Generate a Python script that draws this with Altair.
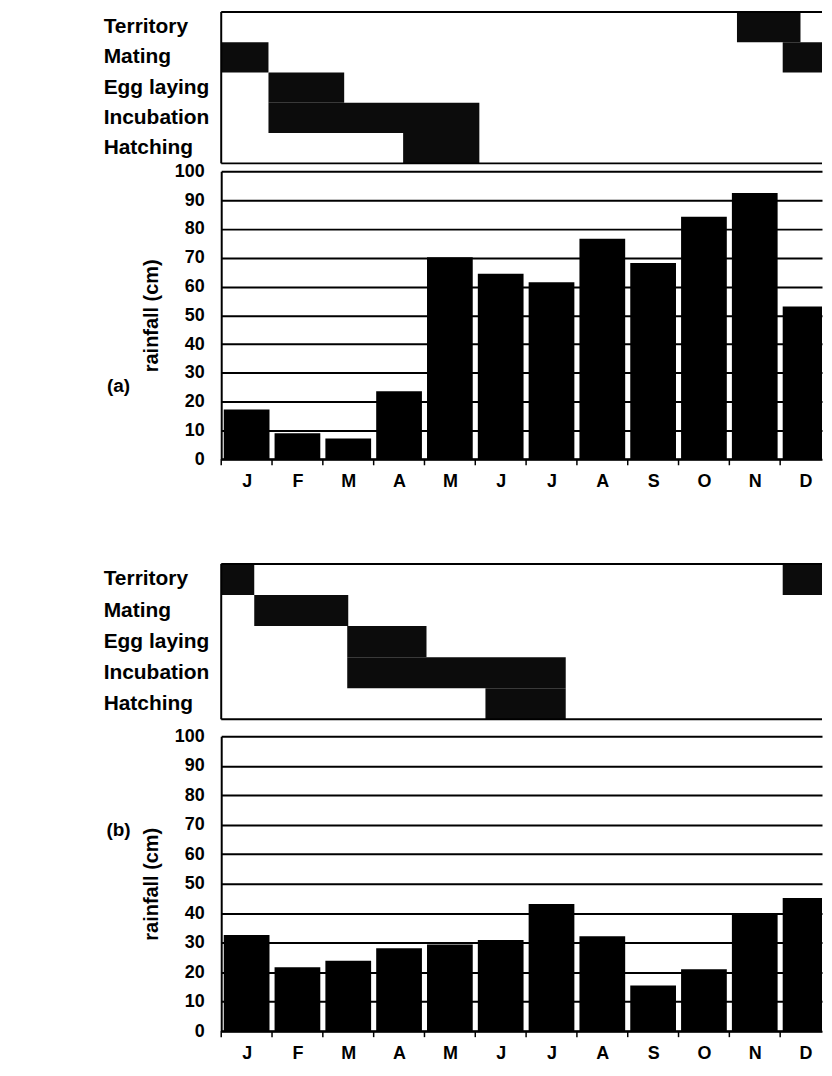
import altair as alt
import pandas as pd

months = ["J", "F", "M", "A", "M", "J", "J", "A", "S", "O", "N", "D"]
rain_a = [17.3, 9.0, 7.2, 23.6, 70.2, 64.4, 61.5, 76.6, 68.2, 84.2, 92.5, 53.1]
rain_b = [32.6, 21.7, 23.9, 28.1, 29.4, 30.9, 43.1, 32.2, 15.5, 21.0, 39.8, 45.2]

stages = ["Territory", "Mating", "Egg laying", "Incubation", "Hatching"]

phase_a_stage = ["Mating", "Egg laying", "Incubation", "Hatching", "Territory", "Mating"]
phase_a_start = [0.0, 0.93, 0.93, 3.58, 10.15, 11.05]
phase_a_end = [0.93, 2.42, 5.08, 5.08, 11.4, 12.0]

phase_b_stage = ["Territory", "Mating", "Egg laying", "Incubation", "Hatching", "Territory"]
phase_b_start = [0.0, 0.65, 2.48, 2.48, 5.2, 11.05]
phase_b_end = [0.65, 2.5, 4.04, 6.78, 6.78, 12.0]

FONT = "Liberation Sans"
W = 603                 # visible plot width (to the page edge)
STEP = 51.0             # pixels per month; the year runs past the page edge as in the original
VIS = W / STEP          # months visible
month_expr = "[" + ",".join("'%s'" % m for m in months) + "][floor(datum.value)]"


def mscale():
    return alt.Scale(domain=[0, VIS], nice=False, zero=False, clamp=True)


def edge(x, x2, y, y2):
    return alt.Chart(pd.DataFrame({"v": [0]})).mark_rule(color="black", strokeWidth=2).encode(
        x=alt.value(x), x2=alt.value(x2), y=alt.value(y), y2=alt.value(y2)
    )


def gantt(stage, start, end, h, with_bound=False):
    df = pd.DataFrame({"stage": stage, "start": start, "end": end})
    yscale = alt.Scale(domain=stages, paddingInner=0, paddingOuter=0)
    blocks = alt.Chart(df).mark_rect(color="#0c0c0c").encode(
        x=alt.X("start:Q", scale=mscale(), axis=None),
        x2="end:Q",
        y=alt.Y("stage:N", scale=yscale, axis=None),
    )
    labels = alt.Chart(pd.DataFrame({"stage": stages})).mark_text(
        align="left", baseline="middle", font=FONT, fontSize=21, fontWeight="bold", color="black"
    ).encode(
        x=alt.value(-118),
        y=alt.Y("stage:N", scale=yscale, axis=None),
        text="stage:N",
    )
    layers = [blocks, labels, edge(0, W, 0, 0), edge(0, W, h, h), edge(0, 0, 0, h)]
    if with_bound:
        layers.append(
            alt.Chart(pd.DataFrame({"v": [0]})).mark_rule(color="white").encode(
                x=alt.value(-213), x2=alt.value(-211), y=alt.value(5)
            )
        )
    return alt.layer(*layers).properties(width=W, height=h)


def bars(vals, h, tag, tag_y):
    idx = list(range(12))
    df = pd.DataFrame({
        "idx": idx,
        "x0": [i + 0.05 for i in idx],
        "x1": [i + 0.95 for i in idx],
        "rain": vals,
    })
    b = alt.Chart(df).mark_bar(color="black").encode(
        x=alt.X(
            "x0:Q",
            scale=mscale(),
            axis=alt.Axis(
                title=None, values=[i + 0.5 for i in idx], labelExpr=month_expr,
                labelAngle=0, domain=False, ticks=False, grid=False,
                labelFont=FONT, labelFontSize=18, labelFontWeight="bold",
                labelColor="black", labelPadding=13, labelFlush=False, labelOverlap=False,
            ),
        ),
        x2="x1:Q",
        y=alt.Y(
            "rain:Q",
            scale=alt.Scale(domain=[0, 100], nice=False),
            axis=alt.Axis(
                title="rainfall (cm)", values=list(range(0, 101, 10)), grid=True,
                gridColor="black", gridWidth=2, gridOpacity=1, ticks=False,
                domainColor="black", domainWidth=2, labelFont=FONT, labelFontSize=18,
                labelFontWeight="bold", labelColor="black", labelPadding=17,
                titleFont=FONT, titleFontSize=20, titleFontWeight="bold",
                titleColor="black", titlePadding=13,
            ),
        ),
        y2=alt.datum(0),
    )
    base = alt.Chart(pd.DataFrame({"v": [0]})).mark_rule(color="black", strokeWidth=2).encode(
        x=alt.value(0), x2=alt.value(W), y=alt.value(h)
    )
    ticks = alt.Chart(df).mark_rule(color="black", strokeWidth=1.5).encode(
        x=alt.X("idx:Q", scale=mscale()),
        y=alt.value(h),
        y2=alt.value(h + 6),
    )
    t = alt.Chart(pd.DataFrame({"t": [tag]})).mark_text(
        font=FONT, fontSize=19, fontWeight="bold", color="black", align="center", baseline="middle"
    ).encode(text="t:N", x=alt.value(-103), y=alt.value(tag_y))
    return alt.layer(b, base, ticks, t).properties(width=W, height=h)


def spacer(h):
    return alt.Chart(pd.DataFrame({"v": [0]})).mark_point(opacity=0).encode(
        x=alt.value(0), y=alt.value(0)
    ).properties(width=W, height=h)


chart = alt.vconcat(
    gantt(phase_a_stage, phase_a_start, phase_a_end, 152, with_bound=True),
    spacer(8),
    bars(rain_a, 289, "(a)", 215),
    spacer(105),
    gantt(phase_b_stage, phase_b_start, phase_b_end, 156),
    spacer(17),
    bars(rain_b, 296, "(b)", 94),
    spacing=0,
    bounds="flush",
).properties(
    padding={"left": 0, "top": 0, "right": 0, "bottom": 0}
).configure_view(stroke="transparent")

chart.save("out.html", embed_options={"renderer": "svg", "actions": False})
